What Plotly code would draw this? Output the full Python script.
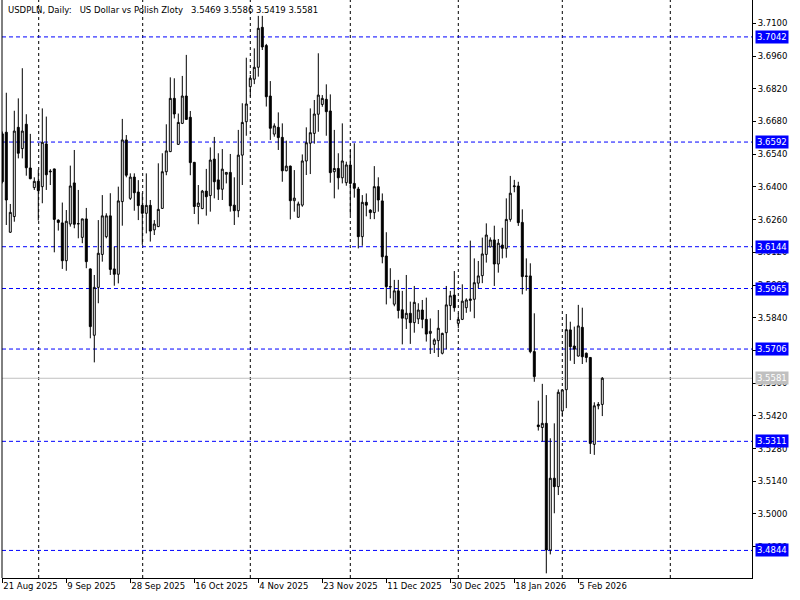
import plotly.graph_objects as go

# daily USDPLN bars, oldest first
open_ = [3.6627, 3.6634, 3.6206, 3.6273, 3.6655, 3.6564, 3.6668, 3.6481, 3.6397, 3.6424,
         3.6401, 3.6584, 3.6468, 3.6477, 3.6258, 3.6246, 3.6084, 3.6241, 3.6417, 3.6243,
         3.6184, 3.6263, 3.6049, 3.5765, 3.5970, 3.6111, 3.6187, 3.6276, 3.6049, 3.6026,
         3.6337, 3.6601, 3.6351, 3.6442, 3.6378, 3.6321, 3.6287, 3.6321, 3.6216, 3.6230,
         3.6308, 3.6465, 3.6551, 3.6779, 3.6582, 3.6672, 3.6789, 3.6698, 3.6505, 3.6316,
         3.6307, 3.6382, 3.6363, 3.6519, 3.6430, 3.6390, 3.6454, 3.6462, 3.6322, 3.6298,
         3.6536, 3.6679, 3.6829, 3.6861, 3.6912, 3.7083, 3.7005, 3.6789, 3.6626, 3.6655,
         3.6612, 3.6469, 3.6489, 3.6341, 3.6270, 3.6322, 3.6511, 3.6587, 3.6629, 3.6711,
         3.6753, 3.6775, 3.6725, 3.6465, 3.6479, 3.6439, 3.6418, 3.6494, 3.6415, 3.6391,
         3.6187, 3.6334, 3.6301, 3.6290, 3.6401, 3.6340, 3.6104, 3.5973, 3.5898, 3.5955,
         3.5874, 3.5835, 3.5859, 3.5819, 3.5835, 3.5873, 3.5833, 3.5773, 3.5726, 3.5742,
         3.5688, 3.5776, 3.5892, 3.5937, 3.5816, 3.5833, 3.5883, 3.5914, 3.5919, 3.5988,
         3.6020, 3.6111, 3.6143, 3.6173, 3.6070, 3.6151, 3.6137, 3.6261, 3.6401, 3.6404,
         3.6248, 3.6019, 3.6019, 3.5695, 3.5381, 3.5370, 3.5388, 3.4846, 3.5153, 3.5117,
         3.5441, 3.5532, 3.5788, 3.5719, 3.5676, 3.5799, 3.5688, 3.5670, 3.5298, 3.5463,
         3.5469]
high = [3.6637, 3.6803, 3.6327, 3.6726, 3.6779, 3.6908, 3.6711, 3.6627, 3.6441, 3.6474,
        3.6736, 3.6701, 3.6476, 3.6478, 3.6261, 3.6333, 3.6301, 3.6491, 3.6558, 3.6387,
        3.6264, 3.6310, 3.6051, 3.6023, 3.6258, 3.6365, 3.6287, 3.6373, 3.6144, 3.6401,
        3.6691, 3.6622, 3.6458, 3.6458, 3.6429, 3.6373, 3.6458, 3.6344, 3.6258, 3.6501,
        3.6544, 3.6668, 3.6869, 3.6865, 3.6714, 3.6875, 3.6965, 3.6725, 3.6507, 3.6408,
        3.6387, 3.6477, 3.6569, 3.6614, 3.6544, 3.6562, 3.6463, 3.6541, 3.6441, 3.6644,
        3.6758, 3.6953, 3.6879, 3.6993, 3.7132, 3.7132, 3.7012, 3.6853, 3.6672, 3.6719,
        3.6672, 3.6598, 3.6491, 3.6472, 3.6337, 3.6539, 3.6655, 3.6736, 3.6772, 3.6972,
        3.6793, 3.6839, 3.6796, 3.6644, 3.6544, 3.6672, 3.6508, 3.6558, 3.6587, 3.6400,
        3.6365, 3.6372, 3.6304, 3.6489, 3.6441, 3.6372, 3.6206, 3.6052, 3.6002, 3.6002,
        3.5955, 3.6023, 3.5909, 3.5976, 3.5902, 3.5916, 3.5926, 3.5837, 3.5752, 3.5873,
        3.5776, 3.5976, 3.5955, 3.6040, 3.5859, 3.5983, 3.5923, 3.6170, 3.6094, 3.6083,
        3.6183, 3.6244, 3.6184, 3.6234, 3.6177, 3.6225, 3.6351, 3.6447, 3.6430, 3.6422,
        3.6304, 3.6094, 3.6073, 3.5859, 3.5485, 3.5557, 3.5509, 3.5324, 3.5388, 3.5533,
        3.5533, 3.5856, 3.5823, 3.5802, 3.5895, 3.5883, 3.5691, 3.5671, 3.5478, 3.5479,
        3.5586]
low = [3.6415, 3.6237, 3.6203, 3.6251, 3.6522, 3.6522, 3.6448, 3.6433, 3.6387, 3.6256,
       3.6330, 3.6387, 3.6408, 3.6120, 3.6213, 3.6049, 3.6041, 3.6230, 3.6223, 3.6180,
       3.6159, 3.6052, 3.5752, 3.5649, 3.5902, 3.6080, 3.6180, 3.6023, 3.5977, 3.5987,
       3.6234, 3.6441, 3.6344, 3.6298, 3.6258, 3.6152, 3.6201, 3.6166, 3.6194, 3.6228,
       3.6306, 3.6450, 3.6549, 3.6693, 3.6580, 3.6669, 3.6688, 3.6450, 3.6284, 3.6240,
       3.6305, 3.6277, 3.6294, 3.6351, 3.6344, 3.6344, 3.6415, 3.6294, 3.6237, 3.6270,
       3.6408, 3.6619, 3.6787, 3.6840, 3.6872, 3.6986, 3.6744, 3.6601, 3.6615, 3.6558,
       3.6422, 3.6467, 3.6261, 3.6294, 3.6268, 3.6315, 3.6451, 3.6455, 3.6585, 3.6636,
       3.6743, 3.6619, 3.6418, 3.6351, 3.6389, 3.6415, 3.6405, 3.6280, 3.6354, 3.6137,
       3.6148, 3.6274, 3.6262, 3.6262, 3.6294, 3.6073, 3.5897, 3.5923, 3.5889, 3.5837,
       3.5726, 3.5792, 3.5728, 3.5776, 3.5813, 3.5795, 3.5738, 3.5685, 3.5689, 3.5672,
       3.5683, 3.5705, 3.5830, 3.5866, 3.5795, 3.5830, 3.5861, 3.5866, 3.5838, 3.5966,
       3.5988, 3.6076, 3.6141, 3.5976, 3.6033, 3.6094, 3.6097, 3.6251, 3.6377, 3.6233,
       3.5940, 3.5956, 3.5688, 3.5566, 3.5357, 3.5310, 3.4746, 3.4827, 3.5003, 3.5081,
       3.5416, 3.5453, 3.5656, 3.5642, 3.5674, 3.5642, 3.5649, 3.5257, 3.5253, 3.5448,
       3.5419]
close = [3.6422, 3.6344, 3.6291, 3.6639, 3.6544, 3.6639, 3.6482, 3.6435, 3.6424, 3.6384,
         3.6591, 3.6452, 3.6465, 3.6261, 3.6248, 3.6084, 3.6253, 3.6404, 3.6240, 3.6242,
         3.6263, 3.6080, 3.5802, 3.5970, 3.6116, 3.6276, 3.6276, 3.6047, 3.6026, 3.6340,
         3.6601, 3.6450, 3.6442, 3.6375, 3.6320, 3.6287, 3.6321, 3.6211, 3.6241, 3.6304,
         3.6465, 3.6554, 3.6779, 3.6712, 3.6676, 3.6789, 3.6689, 3.6504, 3.6316, 3.6331,
         3.6382, 3.6358, 3.6515, 3.6422, 3.6390, 3.6476, 3.6462, 3.6319, 3.6298, 3.6536,
         3.6676, 3.6755, 3.6865, 3.6912, 3.7079, 3.6999, 3.6786, 3.6651, 3.6661, 3.6611,
         3.6469, 3.6489, 3.6341, 3.6352, 3.6327, 3.6511, 3.6589, 3.6632, 3.6712, 3.6793,
         3.6779, 3.6722, 3.6461, 3.6479, 3.6439, 3.6511, 3.6494, 3.6415, 3.6394, 3.6187,
         3.6334, 3.6322, 3.6290, 3.6401, 3.6344, 3.6101, 3.5973, 3.5972, 3.5955, 3.5871,
         3.5838, 3.5859, 3.5819, 3.5906, 3.5873, 3.5833, 3.5770, 3.5782, 3.5745, 3.5795,
         3.5773, 3.5895, 3.5934, 3.5883, 3.5833, 3.5911, 3.5916, 3.5920, 3.5990, 3.6019,
         3.6113, 3.6194, 3.6173, 3.6070, 3.6159, 3.6137, 3.6261, 3.6373, 3.6404, 3.6247,
         3.6016, 3.6017, 3.5695, 3.5588, 3.5374, 3.5388, 3.4846, 3.5153, 3.5117, 3.5521,
         3.5531, 3.5789, 3.5716, 3.5705, 3.5805, 3.5673, 3.5670, 3.5302, 3.5463, 3.5469,
         3.5581]
bars = list(range(len(close)))

date_labels = ["21 Aug 2025", "9 Sep 2025", "28 Sep 2025", "16 Oct 2025", "4 Nov 2025",
               "23 Nov 2025", "11 Dec 2025", "30 Dec 2025", "18 Jan 2026", "5 Feb 2026"]
price_ticks = [3.4860, 3.5000, 3.5140, 3.5280, 3.5420, 3.5560, 3.5700, 3.5840, 3.5980,
               3.6120, 3.6260, 3.6400, 3.6540, 3.6680, 3.6820, 3.6960, 3.7100]
levels = [3.7042, 3.6592, 3.6144, 3.5965, 3.5706, 3.5311, 3.4844]
last_price = 3.5581
month_sep = [9.1, 35.1, 62, 87, 114, 140, 167]

FONT = "DejaVu Sans"

fig = go.Figure(go.Candlestick(
    x=bars, open=open_, high=high, low=low, close=close,
    increasing=dict(fillcolor="white", line=dict(color="black", width=1)),
    decreasing=dict(fillcolor="black", line=dict(color="black", width=1)),
    whiskerwidth=0, hoverinfo="skip", showlegend=False,
))

shapes = []
for m in month_sep:
    shapes.append(dict(type="line", xref="x", yref="paper", x0=m, x1=m, y0=0, y1=1,
                       line=dict(color="black", width=1, dash="3px,3px"), layer="below"))
for lv in levels:
    shapes.append(dict(type="line", xref="paper", yref="y", x0=0, x1=1, y0=lv, y1=lv,
                       line=dict(color="#0000FF", width=1, dash="4px,3px"), layer="below"))
shapes.append(dict(type="line", xref="paper", yref="y", x0=0, x1=1, y0=last_price, y1=last_price,
                   line=dict(color="#C0C0C0", width=1), layer="below"))
shapes.append(dict(type="line", xref="paper", yref="paper", x0=0, x1=0, y0=0, y1=1,
                   line=dict(color="black", width=1)))

annotations = []
for lv in levels:
    annotations.append(dict(x=1, xref="paper", y=lv, yref="y", xanchor="left", yanchor="middle",
                            xshift=3, text=f"{lv:.4f}", showarrow=False, bgcolor="#0000FF",
                            borderpad=1, font=dict(family=FONT, size=8.5, color="white")))
annotations.append(dict(x=1, xref="paper", y=last_price, yref="y", xanchor="left", yanchor="middle",
                        xshift=3, text=f"{last_price:.4f}", showarrow=False, bgcolor="#C0C0C0",
                        borderpad=1, font=dict(family=FONT, size=8.5, color="white")))
sp = "\u00a0" * 3
title = (f"USDPLN, Daily:{sp}US Dollar vs Polish Zloty{sp}"
         f"{open_[-1]:.4f} {high[-1]:.4f} {low[-1]:.4f} {close[-1]:.4f}")
annotations.append(dict(x=0, xref="paper", y=1, yref="paper", xanchor="left", yanchor="top",
                        xshift=4, yshift=-3, text=title, showarrow=False,
                        font=dict(family=FONT, size=8.5, color="black")))

fig.update_layout(
    width=800, height=600,
    margin=dict(l=2, r=48, t=0, b=22),
    paper_bgcolor="white", plot_bgcolor="white",
    font=dict(family=FONT, size=8.5, color="black"),
    shapes=shapes, annotations=annotations,
    xaxis=dict(range=[-0.075, 187.425], rangeslider=dict(visible=False), showgrid=False,
               zeroline=False, showline=True, linecolor="black", linewidth=1,
               ticks="outside", ticklen=4, tickcolor="black",
               tickvals=bars[::16], ticktext=date_labels, ticklabelposition="outside right"),
    yaxis=dict(range=[3.4726, 3.7200], side="right", showgrid=False, zeroline=False,
               showline=True, linecolor="black", linewidth=1,
               ticks="outside", ticklen=3, tickcolor="black",
               tickvals=price_ticks, tickformat=".4f"),
)

# the page's default 8px body margin would push the chart off the 800x600 window
fig.write_html("out.html", config={"displayModeBar": False},
               post_script="document.body.style.margin='0px';")
